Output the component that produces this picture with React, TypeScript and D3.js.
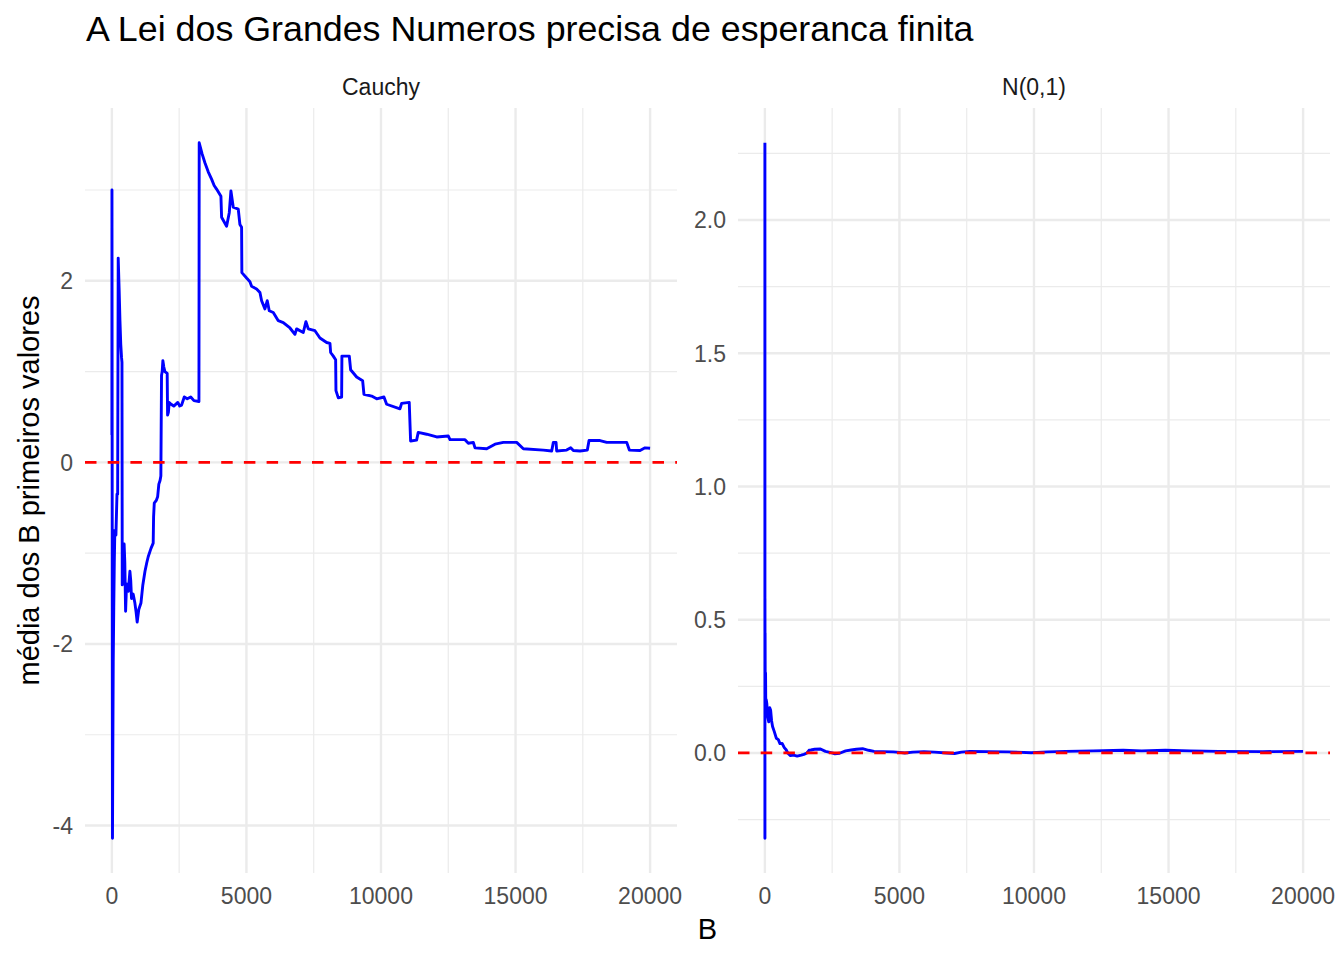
import * as d3 from 'd3'

// running mean of the first B values
const cauchyB = [
  1, 3, 8, 14, 22, 35, 50, 70, 90, 110, 150, 190, 215, 235, 270, 300, 330, 360, 375, 385,
  420, 455, 480, 510, 545, 610, 670, 700, 730, 790, 855, 900, 940, 1000, 1080, 1150, 1230,
  1300, 1350, 1450, 1535, 1550, 1575, 1650, 1700, 1745, 1790, 1820, 1845, 1870, 1895, 1930,
  1970, 2055, 2070, 2100, 2130, 2200, 2300, 2450, 2520, 2590, 2690, 2800, 2930, 3050, 3235,
  3245, 3350, 3457, 3580, 3705, 3800, 3890, 4052, 4077, 4263, 4362, 4424, 4510, 4696, 4758,
  4820, 4830, 5006, 5130, 5192, 5378, 5502, 5564, 5687, 5774, 5848, 5997, 6183, 6369, 6617,
  6802, 6864, 7112, 7211, 7298, 7546, 7732, 7980, 8104, 8129, 8228, 8315, 8327, 8414, 8538,
  8548, 8822, 8872, 9095, 9318, 9367, 9653, 9839, 10110, 10210, 10705, 10767, 11050, 11100,
  11323, 11385, 11697, 12069, 12503, 12565, 13122, 13246, 13432, 13494, 13928, 14237, 14547,
  15042, 15290, 16033, 16343, 16405, 16505, 16529, 16900, 17050, 17148, 17396, 17668, 17731,
  18140, 18388, 19131, 19230, 19627, 19813, 20000,
]
const cauchyMean = [
  0.3, 3.0, 1.2, -1.3, -4.14, -3.2, -2.2, -1.6, -1.1, -0.75, -0.8, -0.35, -0.35, 2.25, 1.9,
  1.56, 1.3, 1.15, 1.1, -1.35, -1.2, -0.9, -1.1, -1.64, -1.34, -1.42, -1.2, -1.3, -1.5,
  -1.45, -1.55, -1.65, -1.76, -1.62, -1.55, -1.35, -1.2, -1.1, -1.04, -0.95, -0.89, -0.6,
  -0.45, -0.42, -0.38, -0.24, -0.2, -0.15, 0.96, 1.0, 1.12, 1.05, 1.0, 0.98, 0.52, 0.55,
  0.66, 0.64, 0.62, 0.66, 0.62, 0.63, 0.72, 0.7, 0.72, 0.68, 0.67,
  3.52, 3.4, 3.3, 3.2, 3.12, 3.05, 3.01, 2.93, 2.7, 2.6, 2.75, 2.99, 2.81, 2.79, 2.62,
  2.59, 2.09, 2.03, 1.99, 1.94, 1.91, 1.87, 1.78, 1.69, 1.78, 1.67, 1.65, 1.56, 1.54, 1.48,
  1.41, 1.47, 1.43, 1.55, 1.47, 1.45, 1.37, 1.32, 1.31, 1.21, 1.17, 1.13, 0.79, 0.71, 0.72,
  1.17, 1.17, 1.02, 0.94, 0.9, 0.75, 0.73, 0.7, 0.72, 0.64, 0.59, 0.65, 0.66, 0.235,
  0.245, 0.33, 0.31, 0.28, 0.29, 0.25, 0.25, 0.21, 0.22, 0.16, 0.15, 0.2, 0.22,
  0.22, 0.15, 0.135, 0.125, 0.22, 0.22, 0.125, 0.135, 0.16, 0.13, 0.125, 0.135, 0.24,
  0.24, 0.22, 0.22, 0.135, 0.13, 0.16, 0.155,
]

const normalB = [
  1, 2, 3, 5, 8, 12, 18, 25, 35, 50, 71, 100, 142, 180, 214, 250, 285, 350, 427, 500, 560,
  641, 720, 790, 855, 950, 1068, 1200, 1353, 1450, 1567, 1640, 1709, 1850, 2065, 2250, 2492,
  2600, 2777, 3000, 3204, 3400, 3632, 3850, 4059, 4400, 4771, 5000, 5198, 5500, 5910, 6300,
  6765, 7050, 7300, 7620, 8300, 9044, 9898, 10500, 11180, 12200, 13316, 14000, 14882, 15800,
  16876, 18500, 20000,
]
const normalMean = [
  2.29, -0.32, 0.58, 0.35, 0.45, 0.28, 0.22, 0.3, 0.15, 0.2, 0.186, 0.14, 0.117, 0.17, 0.16,
  0.12, 0.099, 0.08, 0.055, 0.05, 0.035, 0.036, 0.02, 0.012, -0.001, -0.01, -0.008, -0.012,
  -0.008, -0.005, 0.0, 0.01, 0.011, 0.014, 0.015, 0.006, 0.0, -0.003, -0.001, 0.008, 0.011,
  0.014, 0.016, 0.01, 0.006, 0.005, 0.004, 0.002, 0.0, 0.003, 0.005, 0.003, 0.0, -0.002,
  0.003, 0.006, 0.005, 0.004, 0.001, 0.004, 0.006, 0.008, 0.01, 0.008, 0.01, 0.008, 0.006,
  0.005, 0.006,
]

const xTicks = [0, 5000, 10000, 15000, 20000]
const cauchyTicks = [-4, -2, 0, 2]
const normalTicks = [0, 0.5, 1.0, 1.5, 2.0]

const title = 'A Lei dos Grandes Numeros precisa de esperanca finita'
const xTitle = 'B'
const yTitle = 'média dos B primeiros valores'

const FONT = '"Liberation Sans", Arial, Helvetica, sans-serif'
const GRID = '#EBEBEB'

type Point = { b: number; v: number }

function minorTicks(major: number[], domain: [number, number]): number[] {
  const step = major[1] - major[0]
  const out: number[] = []
  for (let t = major[0] - step / 2; t <= major[major.length - 1] + step; t += step) {
    if (t >= domain[0] && t <= domain[1]) out.push(t)
  }
  return out
}

function expand([min, max]: [number, number]): [number, number] {
  const pad = (max - min) * 0.05
  return [min - pad, max + pad]
}

function Panel({
  left,
  right,
  top,
  bottom,
  label,
  xs,
  ys,
  yTicks,
  yFormat,
}: {
  left: number
  right: number
  top: number
  bottom: number
  label: string
  xs: number[]
  ys: number[]
  yTicks: number[]
  yFormat: (v: number) => string
}) {
  const points: Point[] = xs.map((b, i) => ({ b, v: ys[i] }))
  const xDomain = expand(d3.extent(xs) as [number, number])
  const yDomain = expand(d3.extent(ys) as [number, number])
  const x = d3.scaleLinear().domain(xDomain).range([left, right])
  const y = d3.scaleLinear().domain(yDomain).range([bottom, top])
  const line = d3
    .line<Point>()
    .x((p) => x(p.b))
    .y((p) => y(p.v))

  return (
    <g>
      {minorTicks(yTicks, yDomain).map((t) => (
        <line key={`ym${t}`} x1={left} x2={right} y1={y(t)} y2={y(t)} stroke={GRID} strokeWidth={1.2} />
      ))}
      {minorTicks(xTicks, xDomain).map((t) => (
        <line key={`xm${t}`} x1={x(t)} x2={x(t)} y1={top} y2={bottom} stroke={GRID} strokeWidth={1.2} />
      ))}
      {yTicks.map((t) => (
        <line key={`y${t}`} x1={left} x2={right} y1={y(t)} y2={y(t)} stroke={GRID} strokeWidth={2.4} />
      ))}
      {xTicks.map((t) => (
        <line key={`x${t}`} x1={x(t)} x2={x(t)} y1={top} y2={bottom} stroke={GRID} strokeWidth={2.4} />
      ))}

      <path d={line(points) ?? ''} fill="none" stroke="#0000FF" strokeWidth={2.9} strokeLinejoin="round" />
      <line
        x1={left}
        x2={right}
        y1={y(0)}
        y2={y(0)}
        stroke="#FF0000"
        strokeWidth={2.8}
        strokeDasharray="11.5 11.2"
      />

      {yTicks.map((t) => (
        <text
          key={`yl${t}`}
          x={left - 12}
          y={y(t)}
          dy="0.36em"
          textAnchor="end"
          fontSize={23}
          fill="#4D4D4D"
        >
          {yFormat(t)}
        </text>
      ))}
      {xTicks.map((t) => (
        <text key={`xl${t}`} x={x(t)} y={bottom + 31} textAnchor="middle" fontSize={23} fill="#4D4D4D">
          {t}
        </text>
      ))}
      <text x={(left + right) / 2} y={94.5} textAnchor="middle" fontSize={23} fill="#1A1A1A">
        {label}
      </text>
    </g>
  )
}

export default function App() {
  const width = 1344
  const height = 960
  const top = 108
  const bottom = 873
  const leftPanel = { left: 85, right: 677 }
  const rightPanel = { left: 738, right: 1330 }

  return (
    <svg
      width={width}
      height={height}
      viewBox={`0 0 ${width} ${height}`}
      style={{ position: 'absolute', left: 0, top: 0, background: '#FFFFFF', fontFamily: FONT }}
    >
      <rect width={width} height={height} fill="#FFFFFF" />
      <text x={86} y={41} fontSize={35.8} fill="#000000">
        {title}
      </text>

      <Panel
        {...leftPanel}
        top={top}
        bottom={bottom}
        label="Cauchy"
        xs={cauchyB}
        ys={cauchyMean}
        yTicks={cauchyTicks}
        yFormat={(v) => String(v)}
      />
      <Panel
        {...rightPanel}
        top={top}
        bottom={bottom}
        label="N(0,1)"
        xs={normalB}
        ys={normalMean}
        yTicks={normalTicks}
        yFormat={d3.format('.1f')}
      />

      <text x={(leftPanel.left + rightPanel.right) / 2} y={939} textAnchor="middle" fontSize={29} fill="#000000">
        {xTitle}
      </text>
      <text
        transform={`translate(39,${(top + bottom) / 2}) rotate(-90)`}
        textAnchor="middle"
        fontSize={29}
        fill="#000000"
      >
        {yTitle}
      </text>
    </svg>
  )
}
